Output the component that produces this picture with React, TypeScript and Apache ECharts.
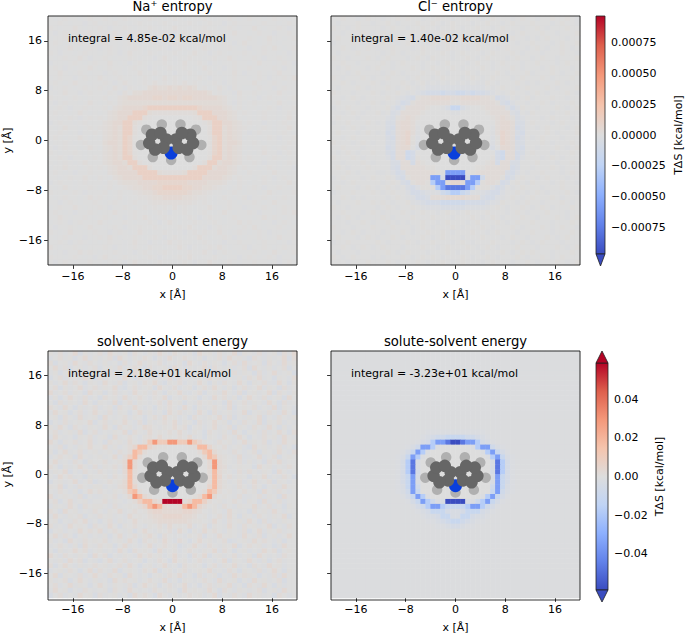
import React, { useEffect, useRef } from "react";
import * as echarts from "echarts";

const FONT = "DejaVu Sans";
const panelTitles = ["Na⁺ entropy", "Cl⁻ entropy", "solvent-solvent energy", "solute-solvent energy"];
const integrals = [
  "integral = 4.85e-02 kcal/mol",
  "integral = 1.40e-02 kcal/mol",
  "integral = 2.18e+01 kcal/mol",
  "integral = -3.23e+01 kcal/mol",
];
const axisTicks = [-16, -8, 0, 8, 16];
const topScale = 0.000966;
const bottomScale = 0.0589;
const topBarTicks = [-0.00075, -0.0005, -0.00025, 0, 0.00025, 0.0005, 0.00075];
const bottomBarTicks = [-0.04, -0.02, 0, 0.02, 0.04];
const coolwarm = ["#3a4cc0", "#6282ea", "#8db0fe", "#c0d4f5", "#dddddd", "#f5c4ad", "#f4987a", "#de604d", "#b40426"];

// cell level -> fraction of the panel's colour range
const levelValues: Record<string, number> = {
  ".": 0, "1": 0.015, "2": 0.03, "3": 0.05, "4": 0.08, "5": 0.12, "6": 0.18, "7": 0.3, "8": 0.5, "9": 0.75, X: 1,
  a: -0.015, b: -0.03, c: -0.05, d: -0.08, e: -0.12, f: -0.18, g: -0.3, h: -0.6, i: -0.8, j: -1,
};

const naRows = [
  ".a.1..a.1. .1.a.1..a. 1..a.1.a.. .1.a..1.a. 1..a.1..a.",
  "..1.a..b.1 a..1..a.1. .a.1.a..1. a.1..b.1.. .a.1..a.1.",
  "1.a..2.a.. 1.b..1.a.. 1.a..2..a. .1..a.1.a. .2.a..1.b.",
  ".b.1..a.1. .a.2.a..1. .a.1.b.1.a ..1.a..2.. a.1..b..1.",
  "a..1.b..2. a..1.a.b.. 2.a..1.a.1 .b..1.a... 1.a.2..a.1",
  ".1.a..1.a. .2..a.1.b. .1.a.2..a. 1.a..1.b.2 ..a.1.a...",
  "..a.2.a.1. b.1.a..1.a ..1.b.1.a. .2.a..1.a. b..1.2.a.1",
  "1.b..a.1.. a.1.b.2..a 1.a..1.a.2 ..b.1.a..1 .a.1..a.b.",
  ".a.1..2.b. .1.a..1.a. .b.2.a..1. .a.1..2.a. .1.b..1.a.",
  "b..a.1.a.1 ..2.a.b.1. a..1.a.2.. 1.b.a..1.. a.2..a.1.b",
  ".1.b.a..2. a.1..a.1.. b.a.1..1.a .2.a.b.1.. 1.a..1.b.a",
  "..2.a.1.a. .b.1.a..2. .1.a.b..1. a.1.a..2.b ..1.a.2..a",
  "a.1..b.1.. 2.a.1..a.1 .a.2.1.a.. 1.b..a.1.. a.1.b..1.2",
  ".1.a.2..a. .1.b.2.a.1 .2.1.1.2.1 .a.1.b.1.. .2.a.1.a..",
  "b..1.a.1.. 1.a2.b1.a. 3433434343 .1a.2.b1.a a.1..b.1..",
  ".a.2..b.1. .a1.b2.334 4444444444 443.1a.b2. .1.a..2.a.",
  "1..a.1.a.. .1a.234444 4554554554 444432.a1. a.b.1..a.1",
  ".b.1..a.2. a.1.233333 3333333333 333332.b1a .1..a.2.a.",
  "a.1.b..1.. .1a2344445 6666666666 5444432.1a ..a.1.b..1",
  ".1..a.2.a. a.23444666 3222222223 66644432.1 .a.1..a.1.",
  "..a.1.b.1. 1.23446662 1........1 26664432.a .a.1..a.2.",
  "b.1..a.1.. .23446631. .......... .13664432. 1..b.a.1..",
  ".a.2..a.1. 12343662.. .......... ..26634321 .a.1.a..2.",
  "..1.a.b..1 .2343662.. .......... ..2663432. b.1..a.1.a",
  ".1.a..2.a. a2343651.. .......... ..1563432a ..a.1.b..1",
  "a..1.a.1.. .3443651.. .......... ..1563443. .1.a..a.1.",
  ".b.1..a.2. a2343651.. .......... ..1563432. a..1.a.1..",
  "1.a..1.a.. .2343651.. .......... ..1563432a .a.2..b.1.",
  "..1.b..a.1 .2343662.. .......... ..2663432. 1..a.1.a..",
  ".a.1.a.2.. .23443662. .......... .26634432. .1.b..a.1.",
  "a..2..a.1. 1.23443666 2........2 66634432.1 ..a.1.a..b",
  ".1.a.b..1. .a23444466 6632222366 66444432.a 1..a.2..a.",
  "..a.1..2.a 1.a2344446 6666666666 6444432.1. .a.1.b.1..",
  "b.1..a.1.. .a1.233344 4455555544 443332.a1. a..1.a..2.",
  ".a.2.a..1. a.1a.12334 4556666554 43321.a.1a .1.b..1.a.",
  "1..a.1.b.. .1a.1..123 3455555543 321..a.1.a ..a.2.a..1",
  ".a.1..a.2. 1.a.1a..11 2334444332 11.a.1.a.1 b..1.a.1..",
  "..b.1.a..1 .a.1.a.1.. 1222222221 .1.a..1.a. .1.a.2..a.",
  "a.1..2.a.. 1.b..1.a.1 .1.1.2.1.a ..2.a.1..b a..1.a.1..",
  ".1.a.b..1. a..2.a.1.. a.1.b..1.a .1.a.2.a.. 1.b..a.1.2",
  "..2.a..1.a .1.a.b.1.2 .a.1..a.1. b.1..a.1.. .a.2.1.a..",
  "a.1.b.1... 2.a..1.a.. 1.b.2.a..1 .a.1.a..2. 1..a.b.1.a",
  ".b..1.a.2. .a.1.b..1. .1.a..1.2. a.b.1..a.1 .2.a..1.a.",
  "1.a.2..a.1 ..b.1.a.2. a..1.a.b.1 .1..2.a.1. a.1.b..a.1",
  ".a.1.a.b.. 1.2.a..1.a .1.b.1.a.. 2.a..1.b.a ..1.a.2..1",
  "..1.b.1.a. a.1..a.2.. b.a.2.1..a .1.a.b..1. .a.1..a.b.",
  "2.a..1.a.. .1.b.a.1.a 1..a..2.b. a.1.2.a..1 b..1.a.1..",
  ".a.b..2.1. a..1.a.b.1 .a.1.a..1. .2.b.1.a.. .1.a.2.a.1",
  "1..a.1.a.b .2.a.1..a. 1.b.a.1.2. a..1.a..b. 1.a.1.b..a",
  ".b.1.a..1. .a.1.b.2.. a.1..a.1.b ..2.a.1.a. .1..a.b.1.",
];

const clRows = [
  "..1..a.1.. a..1.1..a. .1..a..1.. a.1...a.1. .a..1..1.a",
  ".a...1..a. .1.a...1.. 1.a.1...a. .1..a.1... 1...a.1..a",
  "1..a.1.... a.1..a..1. .a..1.a..1 ..a.1...a. .1.a...1..",
  "..a...1.a. 1...a.1..a ..1.a...1. a...1.a.1. ..1..a...1",
  ".1..a...1. .a.1...a.1 .a...1.a.. 1.a...1..a .a.1...a..",
  "a...1.a... 1..a.1...a 1..1.a...1 .a.1...a.. 1...a.1..1",
  "..1.a..1.a ..1...a.1. .a.1...a.1 ...a.1...a .1.a..1.a.",
  ".a...1.... a.1.a...1. ..1.a.1... a.1...1.a. ..a...1..a",
  "1..a...1.a .1...a.1.a 1...a..1.a .1...a.1.. a.1..a...1",
  "..1..a.... 1.a.1...a. .a.1...a.1 ..a.1...a. .1...a.1..",
  ".a.1...a.1 ..a...1.a. 1...1.a... 1.a...1.a. ..a.1...a.",
  "...a.1.... a.1.a...1. .1.a...1.a ...1.a...1 a...1.a..1",
  "1.a...1.a. .1...a.1.. a.1...a.1. a.1...a.1. ..1.a...1.",
  "..1.a...1. a...1.a.1a .a.a.a.a.a a1.a...1.a .a...1.a..",
  ".a...1.a.. .1.a.1.a.b bbbbbbbbbb b.a.1..a.1 ...1.a...1",
  "1...a...1. a..1.a.bcd ddeddeeded dcb.a.1..a .1.a...1.a",
  "..a.1.a... .1.abcd122 3333223333 221dcb.a.1 a...1..a..",
  ".1...a..1. a..bdc1222 2222112222 2221cdb..a ..1.a...1.",
  "a..1...a.. .1bdb22221 ..acffca.. 12222bdb1. .a...1.a.1",
  "..a.1.a..1 a.cb22221. ....aa.... .12222bc.a 1...a..1..",
  ".1...a.... .bc12321.. .......... ..12321cb. ..a.1...a.",
  "a..1...1.a .cc2332... .......... ...2332cc. 1...a.1...",
  "..a.1.a... .cd2332a.. .......... ..a2332dc. .a.1...a.1",
  ".1...a.1.a .dc2342a.. .......... ..a2432cd. ...1.a...1",
  "..a.1..... .cd2341b.. .......... ..b1432dc. a.1...a...",
  "1...a.1.a. .cc2341b.. .......... ..b1432cc. ..1.a...1.",
  "..1...a... .dc233.c.. .......... ..c.332cd. .a...1.a.1",
  ".a.1.a..1. .cd22ed... .......... ...de22dc. 1...a...1.",
  "1...1.a... .bd22ed1.. .......... ..1de22db. ..a.1.a...",
  "..a...1.a. ..cc22d21. .......... .12d22cc.. .1...a..1.",
  ".1.a...1.. ..cd222221 1........1 122222dc.. a...1.a...",
  "...1.a...a a.bdc22222 21.hhhh.12 22222cdb.a ..1...a.1.",
  "a.1...a.1. .1.cd12222 hhcjjjjchh e2221dc.1. .a.1...a..",
  "..a.1..... a.1.cd1221 ghh2442hhg 1221dc.1.a 1...a.1..a",
  ".1...a.1.a .1.a.cdb11 1ghiiiihg1 11bdc.a.1. ..a...1...",
  "a...1...1. a.1..bddcb abefggfeba bcddb..1.a .1.a...1.a",
  "..1.a.a... .a.1.abddc 2223333222 cddba.1.a. 1...1.a...",
  ".a...1..1. 1.a..1abcd ddeeeeeddd dcba1..a.1 ..a...1.a.",
  "1..a.....a .1.a..1.ab bbcccccbbb ba.1.a..1. a.1.a...1.",
  "..1...a.1. a...1.a.1. .a.1.a.1.. .1...a.1.a ...1...a..",
  ".a.1.a.... 1.a...1... 1...a...1. a.1.a...1. .a...1.a.1",
  "...a..1.a. .1.a.a..1. .a.1...a.1 ...1.a.1.. 1...a...1.",
  "1...a...1. ..1...a.1. a...1.a... 1.a...1.a. ..1.a.1..a",
  "..a.1.a... a...1.a..1 ..1.a...1. .a.1...a.. 1...a...1.",
  ".1...a.1.a ..1.a...1. a.1...a... 1...a.1..a ...1.a.1..",
  "a..1.....1 .a...1.a.. 1...a.1.a. ..1...a.1. a.1...a...",
  "..1.a.1.a. 1...a...1. .a.1...1.a .1.a...1.. .a...1.a.1",
  ".a...a.... .1.a.1...a ...1.a.... a...1.a.1. 1...a...1.",
  "1.a.1...a. a...1.a.1. 1.a...1.a. .1.a...1.a ..1.a.1...",
  "...a...1.. .1.a...1.a ..1.a.1... a.1...a..1 .a...1.a.1",
];

const solvRows = [
  "1a2b.3c1a. 2b3.a1c2.b 1a3.b2.a1c 3.1b2a.3c1 .a2b.1c2a3",
  "b.2a1c.3b1 a.2c3.b1a2 .c1b3a.2.b 1c.a2b3.1a c2.b1a.3c2",
  "2c.1b3.a2. b1a.c2b.3a 1.2b.a1c3. b2a1.c.2b3 a.1c2.b3a1",
  ".3a2c.1b.2 c.1a3b.2.c 2a.1c3.b1a .3c2.a1b.2 c3.a1b.2c.",
  "a1c.2b.3a1 .b2c.1a3.b 2.c1a.3b2. a1.c3b.2a1 .c2b.3a.1c",
  "c.2b1.a3.c 2a.1b3.c2. a1b.3c2.a. 1b3.2c.a1b 2.3a.c1.b2",
  "1b.3a2.c1. b3.a2c.1b2 .3ac1.2b.a 3.c1b2.a3. c1.2ab3.c1",
  ".2c1a.3b.2 a1.3bc.2a. 1c3.a2b.1c .2a3.b1c.2 a.3b1.c2a.",
  "3a.2b1.c3. 1c.2a.b3.1 a2.c1.3ab. 2c.1a3.b2c .1a.3c2.b1",
  "b1c.3.a2b. c2.1b3a.2. b1.3c.a2.1 c.b3.2a1c. 3.a2b.1c3.",
  ".c2a1.b3.c 1.a3c.2b1. a.2b3.1c.a 2.1a.c3b.2 a1.b3.c2a.",
  "2.b3.c1a.2 b.1c2.a3.b .c1a2.b3.c 1a.2.b3c.1 .2b.a3c1.b",
  "a3.1c.2b.3 .a2b1.c.3a 1b.c3.2a.b 3.c2a.1b.3 c.1a2.b3.c",
  ".1c2.b3a.1 c3.a.2b1.c .2a3.1b.c2 .a1.3b2c.a 1.3c.b2.a1",
  "c.b2a.1.3c .2a1.3.b2c 1a.2.3b1.c 2a.3.1c.b2 .a3c1.2b.a",
  "1a3.c2.b1. a3.c2.1b.3 2.a1.3.2c. 1b.3a.2c1. b2.a3.c1b.",
  ".2b.1a3c.2 b.a1.3c2.a 3.1.2.3.b1 .c2.a1b3.c .1b2a.3.c2",
  "b3.a.c1.2b .1c3a.2.b1 2.3.1.2.3a .c1.b2.a3. c.a2.1b3.a",
  "3.c1.2a.3b .c2.1a3.b2 6866886686 41.a2.1b.3 a1.2c.b3.1",
  ".a2c.b1.3. .3a1b.2477 4211....12 7741.2a.1b c3.1a.2b.c",
  "1c.3a.2b.1 a.1b2.2762 .......... 26731.a2.b .2c1.a3.b2",
  "b.2.1c3.a. 1a.3b2573. .......... .37621.a3b a.3b.2c.1.",
  ".3a.b2.c1. .2a.1383.. .......... ..3831.a2b 1b.c2.3a..",
  "2.c1a.3.b2 b1.2a383.. .......... ..3832a.1. .c3.1b.a2.",
  "a1.3c.b2.a 2.a1b372.. .......... ..2731.b2a 2.a1.c3.b.",
  ".b3.2a.c1. .1b2.272.. .......... ..274.2a1. c1.3b.a2.c",
  "c.1a.3b.2c a.2.1372.. .......... ..2731a.2b .3a.2c1.b.",
  "1.3c.b2.a1 1b.a2374.. .......... ..4731.a2. b2.c.1a3..",
  ".a2.b1c.3. 2.a1.2672. .......... .2762.1a.2 .1c3.a2.b.",
  "3b.1.a2c.b a1.2b.3873 1........1 3783.1.a2b a.2b1.c3..",
  ".2c.3a.1b. .2a1.b.257 742XXXX247 752.1a.2.b 1.c3a.2b..",
  "b1.a3.c2.1 1.b2a.1.24 7873223787 42.1a2.b1. .3a.2b.c1.",
  "2.c3.1b.a2 .b1.3a.2.1 3443333443 2.a1.b3.a. c2.1a3.b..",
  "a3.b1.2c.a 2.1a.b3.1. 2334444332 .1b.2a3.c1 .b2.a1.3c.",
  ".1c.a2.3b. c.2b1a.3.1 1233333321 1.a3.b2.1a 3.c2b.a1..",
  "2a.b3.1.c2 .a3.c1.2.b 1.2a3.1.3b .2c1.a3.b2 .1a.3c.b2.",
  "c.1b.a3.2. 3b.2.a1c.3 .a1.2b3.c1 a3.2.b1.a2 c.3b1.2a..",
  ".3a2.c.1b. a1c.3b.2a1 3.c2.a.b1. 2c.a3.1.b3 .a2c.1b.3.",
  "1b.c3.a2.1 .2b.1a3.c2 .1a3.b2.c. 3.1a.2cb.1 a3.2.b1c..",
  "a.2.b1c3.a 2.1c.3a.b. 3b.2.1ca.3 .b2.a1.3c. 2.1b.ca3..",
  ".c1a.3.2b. 1a.b3.c2.1 .c3a.1b.2. a1.3b2.c.1 b.a3.2c.1.",
  "3.b2.a1.c3 .2c.a1.b3. 2.1b.3a.c2 .3c.1a.2b. 1c3.a.b2..",
  ".a1b3.2c.a c.3b.2a.1c .a2.c3.1b. 2a.b.3c1.a 3.b1c.2a..",
  "2c.3.b1a.2 .1a.2b3.c. 1b.3a.c2.1 .c.2b1.3a. c2.a3.1b..",
  "b.1a2.c.3b 2.a3c.1.b2 .3c.1b.2a. 1.3a.b2.c1 .a2b.3.c1.",
  ".3c1.a2b.3 .b2.1c3.a. c.1a2.3b.c 2b.1c.a3.2 1.c.a2b3..",
  "1a.2c.3.b1 a.c3.2.1b. 2.a3b.c1.a .2.b3a.1c. b3.1a.2c..",
  ".2b.3a1.c. 3.b1.a2c.3 .1c.2a.3b. c.2a1.3b.c 2.a3.c1b..",
  "a3.1c.b2.a .1c2.b3.a. b2.a1.c3.1 .a3.c2.b1. a.2c.1b3..",
  "c.2b.a3.1c 2a.1b.c3.2 .c3.b1a.2. 1b.3c.a2.b 3.1a.c2.b.",
];

const soluteRows = [
  "aaaaaaaaaa aaaaaaaaaa aaaaaaaaaa aaaaaaaaaa aaaaaaaaaa",
  "aaaaaaaaaa aaaaaaaaaa aaaaaaaaaa aaaaaaaaaa aaaaaaaaaa",
  "aaaaaaaaaa aaaaaaaaaa aaaaaaaaaa aaaaaaaaaa aaaaaaaaaa",
  "aaaaaaaaaa aaaaaaaaaa aaaaaaaaaa aaaaaaaaaa aaaaaaaaaa",
  "aaaaaaaaaa aaaaaaaaaa aaaaaaaaaa aaaaaaaaaa aaaaaaaaaa",
  "aaaaaaaaaa aaaaaaaaaa aaaaaaaaaa aaaaaaaaaa aaaaaaaaaa",
  "aaaaaaaaaa aaaaaaaaaa aaaaaaaaaa aaaaaaaaaa aaaaaaaaaa",
  "aaaaaaaaaa aaaaaaaaaa aaaaaaaaaa aaaaaaaaaa aaaaaaaaaa",
  "aaaaaaaaaa aaaaaaaaaa aaaaaaaaaa aaaaaaaaaa aaaaaaaaaa",
  "aaaaaaaaaa aaaaaaaaaa aaaaaaaaaa aaaaaaaaaa aaaaaaaaaa",
  "aaaaaaaaaa aaaaaaaaaa aaaaaaaaaa aaaaaaaaaa aaaaaaaaaa",
  "aaaaaaaaaa aaaaaaaaaa aaaaaaaaaa aaaaaaaaaa aaaaaaaaaa",
  "aaaaaaaaaa aaaaaaaaaa aaaaaaaaaa aaaaaaaaaa aaaaaaaaaa",
  "aaaaaaaaaa aaaaaaaaaa aaaaaaaaaa aaaaaaaaaa aaaaaaaaaa",
  "aaaaaaaaaa aaaaaaaaaa aaaaaaaaaa aaaaaaaaaa aaaaaaaaaa",
  "aaaaaaaaaa aaaaaaaaaa aaaaaaaaaa aaaaaaaaaa aaaaaaaaaa",
  "aaaaaaaaaa aaaaaaaaab bbbbbbbbbb baaaaaaaaa aaaaaaaaaa",
  "aaaaaaaaaa aaaaaaaabc deeffffeed cbaaaaaaaa aaaaaaaaaa",
  "aaaaaaaaaa aaaaaaabcd ghhijjihhg dcbaaaaaaa aaaaaaaaaa",
  "aaaaaaaaaa aaaaabcehh gb......bg hhecbaaaaa aaaaaaaaaa",
  "aaaaaaaaaa aaaabdfhgb .......... bghfdbaaaa aaaaaaaaaa",
  "aaaaaaaaaa aaabcfhgb. .......... .bghfcbaaa aaaaaaaaaa",
  "aaaaaaaaaa aaabdgic.. .......... ..cigdbaaa aaaaaaaaaa",
  "aaaaaaaaaa aaabdgic.. .......... ..cigdbaaa aaaaaaaaaa",
  "aaaaaaaaaa aaabdgid.. .......... ..digdbaaa aaaaaaaaaa",
  "aaaaaaaaaa aaabdfhc.. .......... ..chfdbaaa aaaaaaaaaa",
  "aaaaaaaaaa aaabdfhc.. .......... ..chfdbaaa aaaaaaaaaa",
  "aaaaaaaaaa aaabcfhe.. .......... ..ehfcbaaa aaaaaaaaaa",
  "aaaaaaaaaa aaabcehf.. .......... ..fhecbaaa aaaaaaaaaa",
  "aaaaaaaaaa aaaabdfhgb .......... bghfdbaaaa aaaaaaaaaa",
  "aaaaaaaaaa aaaaabdfhg ebcjjjjcbe ghfdbaaaaa aaaaaaaaaa",
  "aaaaaaaaaa aaaaaabdeg hhgffffghh gedbaaaaaa aaaaaaaaaa",
  "aaaaaaaaaa aaaaaaabcd fffdccdfff dcbaaaaaaa aaaaaaaaaa",
  "aaaaaaaaaa aaaaaaaabc cdffccffdc cbaaaaaaaa aaaaaaaaaa",
  "aaaaaaaaaa aaaaaaaaab bcdeffedcb baaaaaaaaa aaaaaaaaaa",
  "aaaaaaaaaa aaaaaaaaaa abbcddcbba aaaaaaaaaa aaaaaaaaaa",
  "aaaaaaaaaa aaaaaaaaaa aaaaaaaaaa aaaaaaaaaa aaaaaaaaaa",
  "aaaaaaaaaa aaaaaaaaaa aaaaaaaaaa aaaaaaaaaa aaaaaaaaaa",
  "aaaaaaaaaa aaaaaaaaaa aaaaaaaaaa aaaaaaaaaa aaaaaaaaaa",
  "aaaaaaaaaa aaaaaaaaaa aaaaaaaaaa aaaaaaaaaa aaaaaaaaaa",
  "aaaaaaaaaa aaaaaaaaaa aaaaaaaaaa aaaaaaaaaa aaaaaaaaaa",
  "aaaaaaaaaa aaaaaaaaaa aaaaaaaaaa aaaaaaaaaa aaaaaaaaaa",
  "aaaaaaaaaa aaaaaaaaaa aaaaaaaaaa aaaaaaaaaa aaaaaaaaaa",
  "aaaaaaaaaa aaaaaaaaaa aaaaaaaaaa aaaaaaaaaa aaaaaaaaaa",
  "aaaaaaaaaa aaaaaaaaaa aaaaaaaaaa aaaaaaaaaa aaaaaaaaaa",
  "aaaaaaaaaa aaaaaaaaaa aaaaaaaaaa aaaaaaaaaa aaaaaaaaaa",
  "aaaaaaaaaa aaaaaaaaaa aaaaaaaaaa aaaaaaaaaa aaaaaaaaaa",
  "aaaaaaaaaa aaaaaaaaaa aaaaaaaaaa aaaaaaaaaa aaaaaaaaaa",
  "aaaaaaaaaa aaaaaaaaaa aaaaaaaaaa aaaaaaaaaa aaaaaaaaaa",
  "aaaaaaaaaa aaaaaaaaaa aaaaaaaaaa aaaaaaaaaa aaaaaaaaaa",
];

// molecule atoms, in Å, relative to its centre
const carbons = [
  [0.78, 0.29], [1.21, -1.04], [2.58, -1.33], [3.52, -0.29], [3.09, 1.04], [1.72, 1.33],
  [-0.78, 0.29], [-1.21, -1.04], [-2.58, -1.33], [-3.52, -0.29], [-3.09, 1.04], [-1.72, 1.33],
];
const hydrogens = [
  [3.98, 1.86], [1.5, 2.7], [4.85, -0.6], [2.95, -2.55], [0, -3.0],
  [-3.98, 1.86], [-1.5, 2.7], [-4.85, -0.6], [-2.95, -2.55],
];
const nitrogens = [[0, -1.9]];
const moleculeShift = [[-0.22, -0.12], [-0.22, -0.12], [0, 0.08], [0, 0.08]];

const panelBoxes = [
  { left: 48, top: 16 }, { left: 331, top: 16 }, { left: 48, top: 351 }, { left: 331, top: 351 },
];
const SIDE = 249;
const panelRows = [naRows, clRows, solvRows, soluteRows];
const panelScales = [topScale, topScale, bottomScale, bottomScale];
const panelCellGain = [0.7, 1, 1, 1];

const cells = (rows: string[], scale: number) =>
  rows.flatMap((row, r) =>
    row.replace(/ /g, "").padEnd(50, ".").slice(0, 50).split("").map((ch, c) => [c, 49 - r, (levelValues[ch] ?? 0) * scale])
  );

const minus = (s: string) => s.replace("-", "−");

function buildOption() {
  const indices = Array.from({ length: 50 }, (_, i) => i);
  const grid: any[] = [], xAxis: any[] = [], yAxis: any[] = [], series: any[] = [];
  const title: any[] = [], visualMap: any[] = [], graphic: any[] = [];
  const text = { color: "#000", fontFamily: FONT, fontSize: 11 };

  panelBoxes.forEach((box, p) => {
    grid.push({ left: box.left, top: box.top, width: SIDE, height: SIDE, show: false });
    const ax = xAxis.length, ay = yAxis.length;
    xAxis.push({ type: "category", gridIndex: p, show: false, data: indices });
    yAxis.push({ type: "category", gridIndex: p, show: false, data: indices });
    xAxis.push({
      type: "value", gridIndex: p, min: -20, max: 20, position: "bottom",
      name: "x [Å]", nameLocation: "middle", nameGap: 24, nameTextStyle: text,
      axisLine: { show: false }, splitLine: { show: false },
      axisTick: { show: true, length: 3.9, customValues: axisTicks, lineStyle: { color: "#000", width: 0.8 } },
      axisLabel: { ...text, margin: 6, customValues: axisTicks, formatter: (v: number) => minus(String(v)) },
    });
    const leftCol = p % 2 === 0;
    yAxis.push({
      type: "value", gridIndex: p, min: -20, max: 20, position: "left",
      name: leftCol ? "y [Å]" : "", nameLocation: "middle", nameGap: 35, nameRotate: 90, nameTextStyle: text,
      axisLine: { show: false }, splitLine: { show: false },
      axisTick: { show: true, length: 3.9, customValues: axisTicks, lineStyle: { color: "#000", width: 0.8 } },
      axisLabel: { ...text, show: leftCol, margin: 6, customValues: axisTicks, formatter: (v: number) => minus(String(v)) },
    });
    const heatIndex = series.length;
    series.push({
      type: "heatmap", xAxisIndex: ax, yAxisIndex: ay, silent: true, z: 1, progressive: 0,
      emphasis: { disabled: true }, data: cells(panelRows[p], panelScales[p] * panelCellGain[p]),
    });
    visualMap.push({
      type: "continuous", show: false, seriesIndex: heatIndex, dimension: 2,
      min: -panelScales[p], max: panelScales[p], inRange: { color: coolwarm },
    });
    const [sx, sy] = moleculeShift[p];
    const moved = (list: number[][]) => list.map(([x, y]) => [x + sx, y + sy]);
    const atoms: [number[][], string, number][] = [
      [hydrogens, "#b0b0b0", 10.5],
      [nitrogens, "#0a3fdc", 13],
      [carbons, "#666666", 12.5],
    ];
    atoms.forEach(([list, color, size]) => {
      series.push({
        type: "scatter", xAxisIndex: ax + 1, yAxisIndex: ay + 1, silent: true, z: 3,
        symbol: "circle", symbolSize: size, itemStyle: { color, opacity: 1 }, data: moved(list),
      });
    });
    title.push({
      text: panelTitles[p], left: box.left + SIDE / 2, top: Math.max(box.top - 16, 0), textAlign: "center", padding: 0,
      textStyle: { color: "#000", fontFamily: FONT, fontSize: 13.2, fontWeight: "normal" },
    });
    graphic.push({
      type: "text", x: box.left + 20, y: box.top + 22, z: 10, silent: true,
      style: { text: integrals[p], fill: "#000", font: `11px "${FONT}"`, textVerticalAlign: "middle" },
    });
    graphic.push({
      type: "rect", z: 10, silent: true, shape: { x: box.left, y: box.top, width: SIDE, height: SIDE },
      style: { fill: "none", stroke: "#000", lineWidth: 0.8 },
    });
  });

  const bars = [
    { top: 16, height: 238, scale: topScale, ticks: topBarTicks, digits: 5, gap: 68, up: false },
    { top: 363, height: 227, scale: bottomScale, ticks: bottomBarTicks, digits: 2, gap: 46, up: true },
  ];
  bars.forEach((b) => {
    const g = grid.length;
    grid.push({ left: 596, width: 12, top: b.top, height: b.height, show: false });
    const ax = xAxis.length, ay = yAxis.length;
    xAxis.push({ type: "value", gridIndex: g, show: false, min: 0, max: 1 });
    yAxis.push({
      type: "value", gridIndex: g, min: -b.scale, max: b.scale, position: "right",
      name: "TΔS [kcal/mol]", nameLocation: "middle", nameGap: b.gap, nameRotate: 90, nameTextStyle: text,
      axisLine: { show: false }, splitLine: { show: false },
      axisTick: { show: true, length: 3.9, customValues: b.ticks, lineStyle: { color: "#000", width: 0.8 } },
      axisLabel: { ...text, margin: 6, customValues: b.ticks, formatter: (v: number) => minus(v.toFixed(b.digits)) },
    });
    series.push({
      type: "custom", xAxisIndex: ax, yAxisIndex: ay, silent: true, clip: false, z: 5,
      data: [[0, -b.scale, 1, b.scale]],
      renderItem: (_: any, api: any) => {
        const lo = api.coord([api.value(0), api.value(1)]);
        const hi = api.coord([api.value(2), api.value(3)]);
        const w = hi[0] - lo[0];
        const edge = { stroke: "#222", lineWidth: 0.8 };
        const children: any[] = [
          {
            type: "rect", shape: { x: lo[0], y: hi[1], width: w, height: lo[1] - hi[1] },
            style: {
              fill: new echarts.graphic.LinearGradient(0, 1, 0, 0,
                coolwarm.map((color, k) => ({ offset: k / (coolwarm.length - 1), color }))),
              ...edge,
            },
          },
          {
            type: "polygon", shape: { points: [[lo[0], lo[1]], [hi[0], lo[1]], [(lo[0] + hi[0]) / 2, lo[1] + 12]] },
            style: { fill: coolwarm[0], ...edge },
          },
        ];
        if (b.up) {
          children.push({
            type: "polygon", shape: { points: [[lo[0], hi[1]], [hi[0], hi[1]], [(lo[0] + hi[0]) / 2, hi[1] - 12]] },
            style: { fill: coolwarm[coolwarm.length - 1], ...edge },
          });
        }
        return { type: "group", children };
      },
    });
  });

  return { animation: false, backgroundColor: "#fff", grid, xAxis, yAxis, series, title, visualMap, graphic };
}

export default function App() {
  const ref = useRef<HTMLDivElement>(null);
  useEffect(() => {
    document.body.style.margin = "0";
    const chart = echarts.init(ref.current!, undefined, { renderer: "svg" });
    chart.setOption(buildOption());
    return () => chart.dispose();
  }, []);
  return <div ref={ref} style={{ width: 685, height: 634 }} />;
}
